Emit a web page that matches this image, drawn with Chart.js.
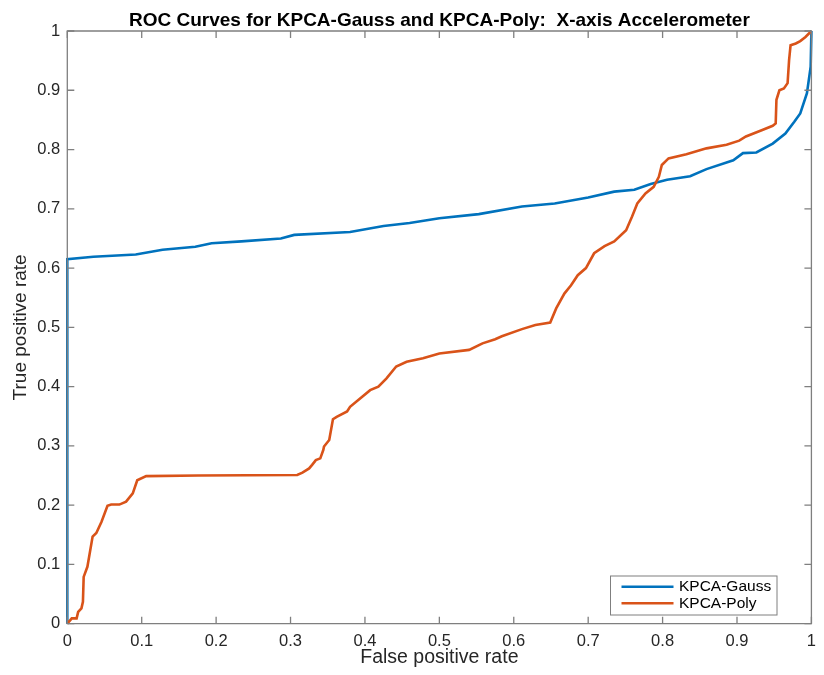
<!DOCTYPE html>
<html>
<head>
<meta charset="utf-8">
<script src="https://cdn.jsdelivr.net/npm/chart.js@4"></script>
<style>
html,body{margin:0;padding:0;background:#fff;}
canvas{display:block;}
</style>
</head>
<body>
<canvas id="c" width="824" height="675"></canvas>
<script>
const titleText = "ROC Curves for KPCA-Gauss and KPCA-Poly:  X-axis Accelerometer";
const xAxisTitle = "False positive rate";
const yAxisTitle = "True positive rate";
const seriesNames = ["KPCA-Gauss", "KPCA-Poly"];
const xTickValues = [0, 0.1, 0.2, 0.3, 0.4, 0.5, 0.6, 0.7, 0.8, 0.9, 1];
const xTickLabels = ["0", "0.1", "0.2", "0.3", "0.4", "0.5", "0.6", "0.7", "0.8", "0.9", "1"];
const yTickValues = [0, 0.1, 0.2, 0.3, 0.4, 0.5, 0.6, 0.7, 0.8, 0.9, 1];
const yTickLabels = ["0", "0.1", "0.2", "0.3", "0.4", "0.5", "0.6", "0.7", "0.8", "0.9", "1"];

const gaussFPR = [0, 0, 0.035, 0.092, 0.128, 0.172, 0.194, 0.234, 0.287, 0.305, 0.380, 0.425, 0.460, 0.500, 0.553, 0.611, 0.655, 0.700, 0.735, 0.762, 0.784, 0.806, 0.837, 0.859, 0.895, 0.908, 0.926, 0.948, 0.965, 0.977, 0.985, 0.994, 0.999, 1];
const gaussTPR = [0, 0.615, 0.619, 0.623, 0.631, 0.636, 0.642, 0.645, 0.650, 0.656, 0.661, 0.671, 0.676, 0.684, 0.691, 0.704, 0.709, 0.719, 0.729, 0.732, 0.742, 0.749, 0.755, 0.767, 0.782, 0.794, 0.795, 0.810, 0.827, 0.847, 0.861, 0.895, 0.940, 1];

const polyFPR = [0, 0.006, 0.0125, 0.0146, 0.019, 0.021, 0.022, 0.027, 0.034, 0.039, 0.046, 0.054, 0.059, 0.070, 0.079, 0.088, 0.094, 0.106, 0.176, 0.309, 0.316, 0.325, 0.329, 0.334, 0.340, 0.344, 0.345, 0.352, 0.357, 0.362, 0.376, 0.380, 0.407, 0.418, 0.429, 0.442, 0.456, 0.478, 0.500, 0.540, 0.558, 0.575, 0.584, 0.611, 0.629, 0.649, 0.657, 0.668, 0.677, 0.686, 0.697, 0.708, 0.722, 0.735, 0.751, 0.759, 0.766, 0.777, 0.788, 0.795, 0.799, 0.808, 0.832, 0.859, 0.886, 0.903, 0.912, 0.934, 0.948, 0.952, 0.953, 0.957, 0.963, 0.968, 0.970, 0.972, 0.979, 0.985, 0.992, 1];
const polyTPR = [0, 0.009, 0.009, 0.020, 0.026, 0.037, 0.079, 0.096, 0.147, 0.153, 0.172, 0.199, 0.201, 0.201, 0.206, 0.220, 0.242, 0.249, 0.250, 0.251, 0.255, 0.262, 0.268, 0.276, 0.279, 0.293, 0.299, 0.310, 0.345, 0.349, 0.358, 0.366, 0.394, 0.400, 0.414, 0.434, 0.442, 0.448, 0.456, 0.462, 0.473, 0.480, 0.485, 0.497, 0.504, 0.508, 0.532, 0.557, 0.571, 0.588, 0.600, 0.625, 0.637, 0.645, 0.664, 0.687, 0.709, 0.726, 0.737, 0.754, 0.774, 0.785, 0.792, 0.802, 0.808, 0.815, 0.822, 0.833, 0.840, 0.844, 0.884, 0.900, 0.903, 0.912, 0.951, 0.976, 0.979, 0.983, 0.990, 1];

const colors = ["#0072BD", "#D95319"];
const FONT = "'Liberation Sans', Arial, Helvetica, sans-serif";
const AXIS_COLOR = "#7f7f7f";
const TEXT_COLOR = "#262626";

function pts(xs, ys) { return xs.map((x, i) => ({x: x, y: ys[i]})); }

const boxPlugin = {
  id: 'matlabBox',
  afterDraw(chart) {
    const ctx = chart.ctx;
    const a = chart.chartArea;
    const xs = chart.scales.x, ys = chart.scales.y;
    const L = 7;
    ctx.save();
    ctx.strokeStyle = AXIS_COLOR;
    ctx.lineWidth = 1.3;
    ctx.beginPath();
    ctx.rect(a.left, a.top, a.right - a.left, a.bottom - a.top);
    ctx.stroke();
    ctx.beginPath();
    xTickValues.forEach(v => {
      const px = xs.getPixelForValue(v);
      ctx.moveTo(px, a.bottom); ctx.lineTo(px, a.bottom - L);
      ctx.moveTo(px, a.top); ctx.lineTo(px, a.top + L);
    });
    yTickValues.forEach(v => {
      const py = ys.getPixelForValue(v);
      ctx.moveTo(a.left, py); ctx.lineTo(a.left + L, py);
      ctx.moveTo(a.right, py); ctx.lineTo(a.right - L, py);
    });
    ctx.stroke();

    // legend
    const lx0 = 610.5, ly0 = 576, lw = 166.5, lh = 39;
    ctx.fillStyle = '#fff';
    ctx.fillRect(lx0, ly0, lw, lh);
    ctx.strokeStyle = '#7f7f7f';
    ctx.lineWidth = 1;
    ctx.strokeRect(lx0, ly0, lw, lh);
    ctx.font = "15.5px " + FONT;
    ctx.textBaseline = 'middle';
    ctx.textAlign = 'left';
    chart.data.datasets.forEach((ds, i) => {
      const y = ly0 + 10.7 + i * 16.6;
      ctx.strokeStyle = ds.borderColor;
      ctx.lineWidth = 2.5;
      ctx.beginPath();
      ctx.moveTo(lx0 + 11, y); ctx.lineTo(lx0 + 63, y);
      ctx.stroke();
      ctx.fillStyle = '#000';
      ctx.fillText(ds.label, lx0 + 68.5, y + 0.5);
    });
    ctx.restore();
  }
};

new Chart(document.getElementById('c'), {
  type: 'scatter',
  data: {
    datasets: [
      {label: seriesNames[0], data: pts(gaussFPR, gaussTPR), borderColor: colors[0], backgroundColor: colors[0], showLine: true, borderWidth: 2.6, pointRadius: 0, tension: 0, clip: 4, order: 1},
      {label: seriesNames[1], data: pts(polyFPR, polyTPR), borderColor: colors[1], backgroundColor: colors[1], showLine: true, borderWidth: 2.6, pointRadius: 0, tension: 0, clip: 4, order: 0}
    ]
  },
  options: {
    responsive: false,
    animation: false,
    layout: {padding: {left: 0, right: 4.7, top: 0, bottom: 0}},
    plugins: {
      legend: {display: false},
      tooltip: {enabled: false},
      title: {
        display: true, text: titleText, fullSize: false,
        color: '#000',
        font: {family: FONT, size: 19, weight: 'bold', lineHeight: 1.0},
        padding: {top: 11.5, bottom: 0.5}
      }
    },
    scales: {
      x: {
        type: 'linear', min: 0, max: 1,
        afterBuildTicks(s) { s.ticks = xTickValues.map(v => ({value: v})); },
        afterFit(s) { s.height = 51.3; },
        grid: {display: false, drawTicks: false},
        border: {display: false},
        ticks: {
          color: TEXT_COLOR, padding: 8, maxRotation: 0, autoSkip: false,
          font: {family: FONT, size: 16.5},
          callback(v) { const i = xTickValues.indexOf(v); return i >= 0 ? xTickLabels[i] : ''; }
        },
        title: {display: true, text: xAxisTitle, color: TEXT_COLOR, font: {family: FONT, size: 19.5, lineHeight: 1.2}, padding: {top: 0, bottom: 5.5}}
      },
      y: {
        type: 'linear', min: 0, max: 1,
        afterBuildTicks(s) { s.ticks = yTickValues.map(v => ({value: v})); },
        afterFit(s) { s.width = 67.3; },
        grid: {display: false, drawTicks: false},
        border: {display: false},
        ticks: {
          color: TEXT_COLOR, padding: 7, autoSkip: false,
          font: {family: FONT, size: 16.5},
          callback(v) { const i = yTickValues.indexOf(v); return i >= 0 ? yTickLabels[i] : ''; }
        },
        title: {display: true, text: yAxisTitle, color: TEXT_COLOR, font: {family: FONT, size: 19, lineHeight: 1.2}, padding: {top: 9.5, bottom: 0}}
      }
    }
  },
  plugins: [boxPlugin]
});
</script>
</body>
</html>
